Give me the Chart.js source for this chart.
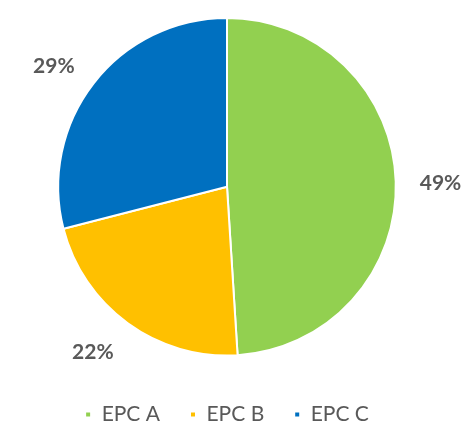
<!DOCTYPE html>
<html>
<head>
<meta charset="utf-8">
<script src="https://cdn.jsdelivr.net/npm/chart.js@4"></script>
<style>
  html, body { margin: 0; padding: 0; background: #fff; }
  #wrap { width: 463px; height: 435px; }
</style>
</head>
<body>
<div id="wrap"><canvas id="pieChart" width="463" height="435"></canvas></div>
<script>
const labels = ['EPC A', 'EPC B', 'EPC C'];
const shares = [49, 22, 29];
const sliceColors = ['#92D050', '#FFC000', '#0070C0'];

// percentage labels just outside each slice, pushed away from the pie edge
const outsideLabels = {
    id: 'outsideLabels',
    afterDatasetsDraw: (chart) => {
        const ctx = chart.ctx;
        const meta = chart.getDatasetMeta(0);
        ctx.save();
        ctx.font = 'bold 21px Lato';
        ctx.fillStyle = '#595959';
        ctx.textBaseline = 'middle';
        meta.data.forEach((arc, i) => {
            const mid = (arc.startAngle + arc.endAngle) / 2;
            const r = arc.outerRadius + 24;
            const cos = Math.cos(mid);
            const sin = Math.sin(mid);
            const x = arc.x + cos * r;
            const y = arc.y + sin * r + sin * 8 + 3;
            ctx.textAlign = cos >= 0 ? 'left' : 'right';
            ctx.fillText(shares[i] + '%', x, y);
        });
        ctx.restore();
    }
};

const canvas = document.getElementById('pieChart');
const ctx = canvas.getContext('2d');

new Chart(ctx, {
    type: 'pie',
    data: {
        labels: labels,
        datasets: [{
            data: shares,
            backgroundColor: sliceColors,
            borderColor: '#ffffff',
            borderWidth: 2,
        }]
    },
    options: {
        responsive: false,
        animation: false,
        layout: {
            padding: { top: 17, right: 9, bottom: 0, left: 0 }
        },
        plugins: {
            legend: {
                position: 'bottom',
                title: {
                    display: true,
                    text: ' ',
                    padding: { top: 0, bottom: 3 },
                    font: { size: 12 }
                },
                labels: {
                    usePointStyle: true,
                    pointStyle: 'rect',
                    boxWidth: 6,
                    boxHeight: 6,
                    padding: 30,
                    color: '#595959',
                    font: { family: 'Lato', size: 21 }
                }
            },
            tooltip: { enabled: false }
        }
    },
    plugins: [outsideLabels]
});
</script>
</body>
</html>
